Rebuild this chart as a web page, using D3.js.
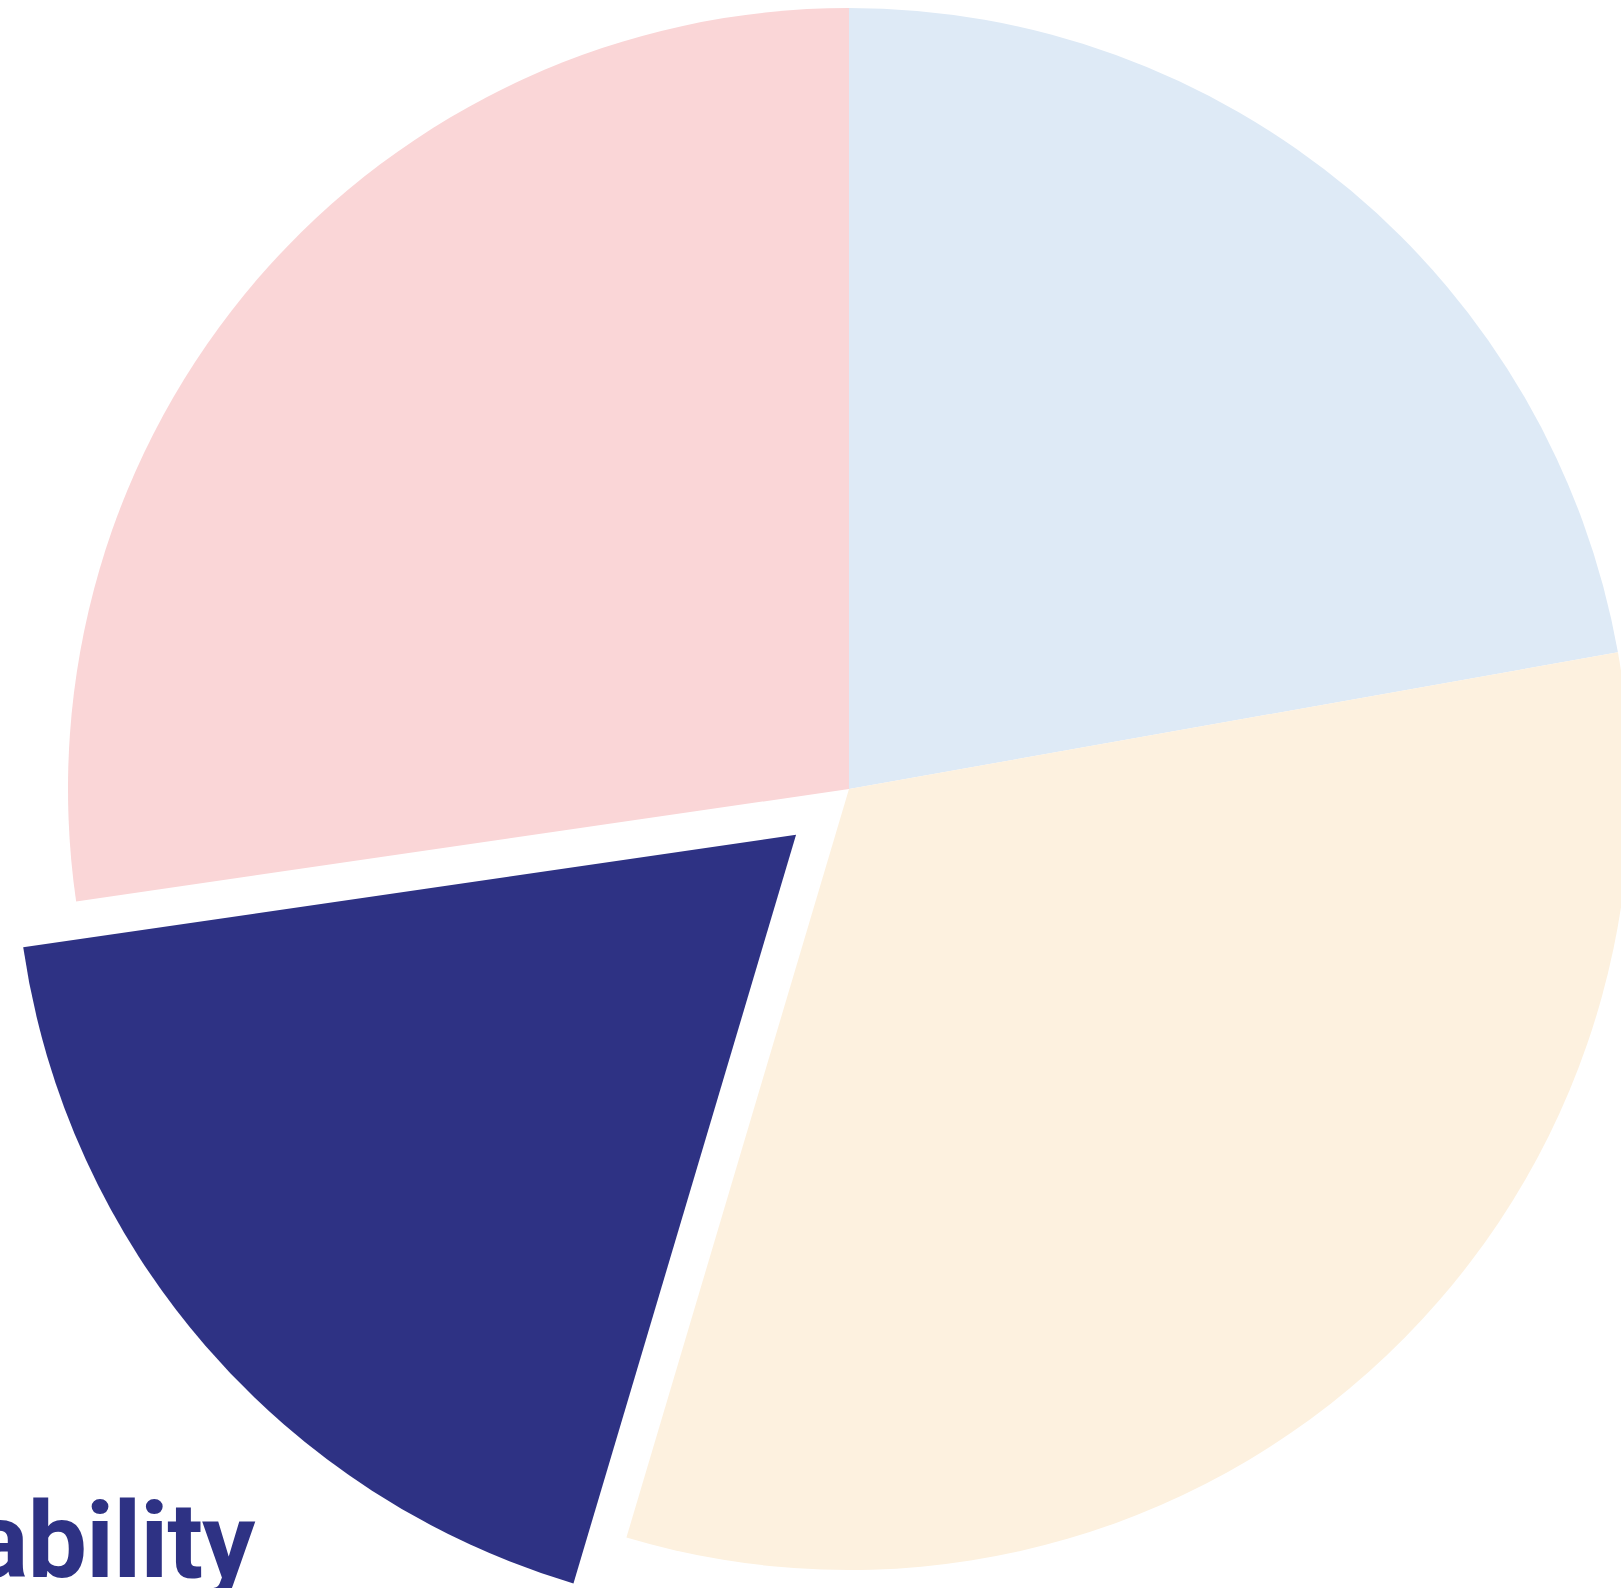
<!DOCTYPE html>
<html>
<head>
<meta charset="utf-8">
<script src="https://cdn.jsdelivr.net/npm/d3@7"></script>
<style>
  html, body { margin: 0; padding: 0; background: #fff; overflow: hidden; }
  svg { display: block; }
</style>
</head>
<body>
<div id="chart"></div>
<script>
// slices, clockwise from 12 o'clock
const values = [22.2, 32.4, 18.1, 27.3];
const colors = ["#deeaf6", "#fdf1df", "#2e3284", "#fad6d7"];
const labels = ["", "", "Sustainability", ""];
const exploded = [false, false, true, false];

const W = 1621, H = 1588;
const cx = 849, cy = 789, R = 781, pull = 70;

const d3 = window.d3;
const svg = d3.select("#chart").append("svg")
  .attr("width", W)
  .attr("height", H)
  .attr("viewBox", `0 0 ${W} ${H}`);

const g = svg.append("g").attr("transform", `translate(${cx},${cy})`);

const pie = d3.pie().sort(null).value(d => d.v);
const arc = d3.arc().innerRadius(0).outerRadius(R);

const slices = pie(values.map((v, i) => ({ v, i })));

// offset of an exploded slice along its mid angle
function shift(d) {
  if (!exploded[d.data.i]) return [0, 0];
  const a = (d.startAngle + d.endAngle) / 2;
  return [Math.sin(a) * pull, -Math.cos(a) * pull];
}

g.selectAll("path")
  .data(slices)
  .join("path")
  .attr("d", arc)
  .attr("fill", d => colors[d.data.i])
  .attr("transform", d => `translate(${shift(d)})`);

// label of the pulled slice, sitting left of its lower outer corner
g.selectAll("text")
  .data(slices.filter(d => labels[d.data.i]))
  .join("text")
  .attr("x", d => shift(d)[0] + Math.sin(d.startAngle) * R - 319)
  .attr("y", d => shift(d)[1] - Math.cos(d.startAngle) * R - 6)
  .attr("text-anchor", "end")
  .attr("fill", d => colors[d.data.i])
  .style("font-family", "Roboto, 'Open Sans', sans-serif")
  .style("font-weight", 700)
  .style("font-size", "106px")
  .style("letter-spacing", "-1px")
  .text(d => labels[d.data.i]);
</script>
</body>
</html>
